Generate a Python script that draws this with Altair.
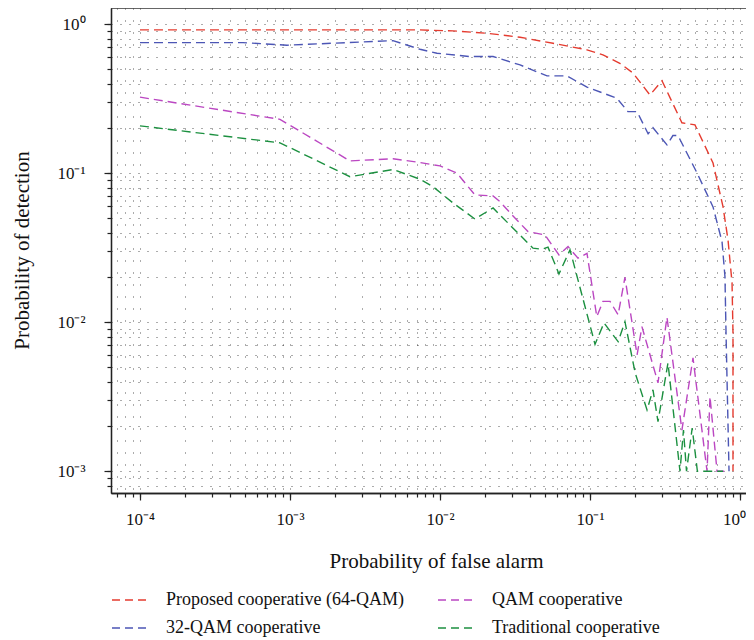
import altair as alt
import pandas as pd

# ---------------- data ----------------
names = ["Proposed cooperative (64-QAM)", "32-QAM cooperative",
         "QAM cooperative", "Traditional cooperative"]
colors = ["#e53b2f", "#4c56b5", "#bb47c2", "#1c9040"]

red_x = [1e-4, 7.36e-3, 0.0122, 0.0206, 0.0342, 0.0567, 0.0955, 0.122, 0.158,
         0.194, 0.251, 0.302, 0.410, 0.501, 0.661, 0.771, 0.832, 0.885, 0.898, 0.898]
red_y = [0.916, 0.916, 0.902, 0.870, 0.818, 0.745, 0.673, 0.622, 0.547,
         0.469, 0.335, 0.418, 0.218, 0.211, 0.117, 0.0594, 0.0357, 0.0184, 0.00847, 0.001]

blue_x = [1e-4, 4.86e-4, 9.55e-4, 4.86e-3, 7.36e-3, 9.55e-3, 0.0158, 0.0226, 0.0342,
          0.0517, 0.0703, 0.0955, 0.151, 0.179, 0.206, 0.244, 0.263, 0.326, 0.357,
          0.386, 0.517, 0.661, 0.759, 0.794, 0.807, 0.845]
blue_y = [0.753, 0.753, 0.723, 0.776, 0.679, 0.639, 0.607, 0.607, 0.533,
          0.450, 0.450, 0.378, 0.319, 0.259, 0.259, 0.184, 0.202, 0.155, 0.179,
          0.179, 0.1005, 0.0594, 0.0347, 0.0202, 0.00847, 0.001]

mag_x = [1e-4, 8.58e-4, 2.51e-3, 4.86e-3, 7.36e-3, 0.01, 0.013, 0.0171, 0.0226,
         0.0251, 0.0302, 0.0386, 0.0501, 0.0621, 0.0714, 0.0832, 0.0955, 0.111,
         0.122, 0.136, 0.154, 0.171, 0.206, 0.222, 0.284, 0.326, 0.410, 0.486,
         0.603, 0.631, 0.703, 0.794]
mag_y = [0.324, 0.230, 0.121, 0.125, 0.118, 0.112, 0.100, 0.0715, 0.0704,
         0.0645, 0.0525, 0.0406, 0.0385, 0.0283, 0.0322, 0.0269, 0.0290, 0.0109,
         0.0138, 0.0138, 0.0112, 0.0200, 0.00604, 0.00933, 0.00392, 0.0108, 0.00189,
         0.00576, 0.001, 0.00317, 0.001, 0.001]

green_x = [1e-4, 8.58e-4, 2.51e-3, 4.86e-3, 7.36e-3, 8.98e-3, 0.0122, 0.0171, 0.0226,
           0.0251, 0.0307, 0.0417, 0.0479, 0.0525, 0.0621, 0.0736, 0.108, 0.124,
           0.154, 0.171, 0.200, 0.240, 0.263, 0.284, 0.331, 0.398, 0.420, 0.440,
           0.480, 0.520, 0.603, 0.771]
green_y = [0.208, 0.160, 0.0948, 0.106, 0.0912, 0.0813, 0.0632, 0.0493, 0.0585,
           0.0525, 0.0428, 0.0314, 0.0309, 0.0319, 0.0211, 0.0306, 0.00711, 0.0099,
           0.00741, 0.0101, 0.00457, 0.00258, 0.00352, 0.00215, 0.00533, 0.001, 0.00189,
           0.001, 0.00195, 0.001, 0.001, 0.001]

x_major = [1e-4, 1e-3, 1e-2, 1e-1, 1.0]
y_major = [1e-3, 1e-2, 1e-1, 1.0]

# ---------------- table ----------------
rows = []
for name, xs_, ys_ in [(names[0], red_x, red_y), (names[1], blue_x, blue_y),
                       (names[2], mag_x, mag_y), (names[3], green_x, green_y)]:
    for i, (a, b) in enumerate(zip(xs_, ys_)):
        rows.append({"series": name, "idx": i, "fa": a, "pd": b})
df = pd.DataFrame(rows)

W, H = 635, 485
xdom = [6.41e-5, 1.0965]
ydom = [7.145e-4, 1.285]

x_all = [m * 10.0 ** e for e in range(-5, 1) for m in range(1, 10)
         if xdom[0] <= m * 10.0 ** e <= xdom[1]]
y_all = [m * 10.0 ** e for e in range(-4, 1) for m in range(1, 10)
         if ydom[0] <= m * 10.0 ** e <= ydom[1]]

label_expr = ("datum.value >= 0.5 ? '10⁰' : datum.value >= 0.05 ? '10⁻¹' : "
              "datum.value >= 0.005 ? '10⁻²' : datum.value >= 0.0005 ? '10⁻³' : '10⁻⁴'")

FONT = "Liberation Serif"
AX = "#222222"
TXT = "#111111"

xsc = alt.Scale(type="log", domain=xdom, nice=False)
ysc = alt.Scale(type="log", domain=ydom, nice=False)

lines = alt.Chart(df).mark_line(strokeDash=[9, 5], strokeWidth=1.4, clip=True).encode(
    x=alt.X("fa:Q", scale=xsc,
            axis=alt.Axis(values=x_all, orient="bottom", grid=True, gridDash=[1, 11],
                          gridColor="#000000", gridOpacity=0.65, gridWidth=1,
                          labels=False, tickSize=4, tickColor=AX, tickWidth=1.2,
                          domainColor=AX, domainWidth=1.3, title=None)),
    y=alt.Y("pd:Q", scale=ysc,
            axis=alt.Axis(values=y_all, orient="left", grid=True, gridDash=[1, 8],
                          gridColor="#000000", gridOpacity=0.65, gridWidth=1,
                          labels=False, tickSize=4, tickColor=AX, tickWidth=1.2,
                          domainColor=AX, domainWidth=1.3, title=None)),
    color=alt.Color("series:N", scale=alt.Scale(domain=names, range=colors),
                    legend=alt.Legend(orient="none", legendX=0, legendY=573, columns=2,
                                      title=None, symbolType="stroke", symbolSize=1296,
                                      symbolStrokeWidth=1.5, symbolDash=[8, 5],
                                      labelFont=FONT, labelFontSize=18, labelColor=TXT,
                                      labelLimit=0, labelOffset=17, columnPadding=31,
                                      rowPadding=-14, padding=0)),
    order="idx:Q",
)

ghost = alt.Chart(df).mark_point(opacity=0).encode(
    x=alt.X("fa:Q", scale=xsc,
            axis=alt.Axis(values=x_major, orient="bottom", grid=False, labelExpr=label_expr,
                          labelFont=FONT, labelFontSize=17, labelColor=TXT,
                          labelOffset={"condition": {"test": "datum.value >= 0.5", "value": -6},
                                       "value": 0},
                          labelPadding=11, tickSize=7, tickColor=AX, tickWidth=1.2,
                          domainColor=AX, domainWidth=1.3,
                          title="Probability of false alarm", titleFont=FONT,
                          titleFontSize=21, titleFontWeight="normal", titleColor=TXT,
                          titleX=325, titleY=68, titleBaseline="middle")),
    y=alt.Y("pd:Q", scale=ysc,
            axis=alt.Axis(values=y_major, orient="left", grid=False, labelExpr=label_expr,
                          labelFont=FONT, labelFontSize=17, labelColor=TXT,
                          labelPadding=19, tickSize=7, tickColor=AX, tickWidth=1.2,
                          domainColor=AX, domainWidth=1.3,
                          title="Probability of detection", titleFont=FONT,
                          titleFontSize=21, titleFontWeight="normal", titleColor=TXT,
                          titleX=-89, titleY=242, titleBaseline="middle")),
)

frame = alt.Chart(pd.DataFrame({"k": [0]})).mark_rule(color="#333333", strokeWidth=1.5).encode(
    x=alt.value(0), x2=alt.value(W), y=alt.value(0))

chart = alt.layer(lines, ghost, frame).resolve_axis(x="independent", y="independent").properties(
    width=W, height=H,
    autosize=alt.AutoSizeParams(type="none"),
    padding={"left": 103, "top": 0, "right": 0, "bottom": 146},
).configure_view(strokeWidth=0)

chart.save("out.html", embed_options={"renderer": "svg", "actions": False})
